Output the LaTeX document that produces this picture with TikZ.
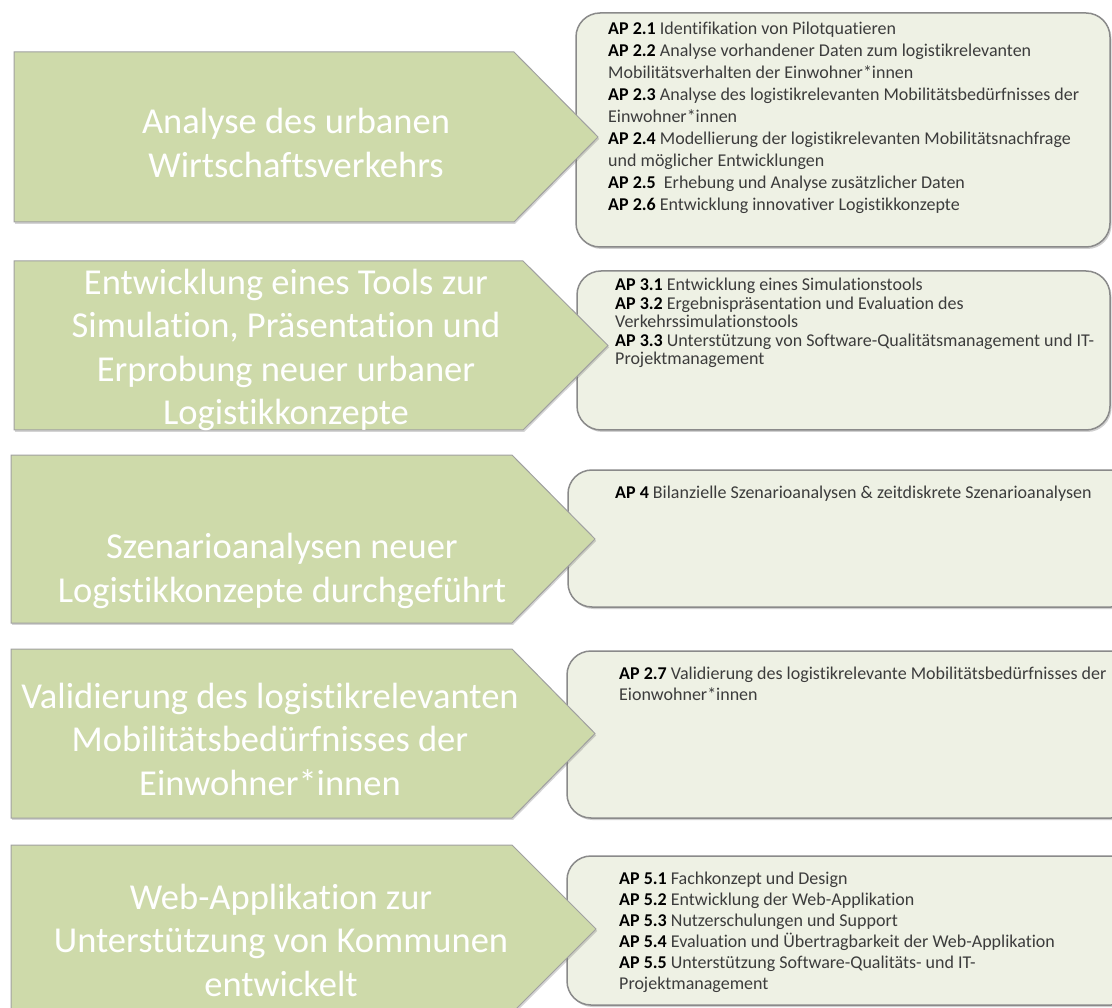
\documentclass[tikz,border=0pt]{standalone}
\usepackage{fontspec}
\setmainfont[Ligatures=NoCommon]{Carlito}
\usetikzlibrary{shadows}

\definecolor{arrowfill}{HTML}{CEDAAA}
\definecolor{arrowline}{HTML}{A0A0A0}
\definecolor{boxfill}{HTML}{EEF1E4}
\definecolor{boxline}{HTML}{8A8A8A}
\definecolor{boxtext}{HTML}{3C3C3C}

\tikzset{
  goalarrow/.style={fill=arrowfill, draw=arrowline, line width=1pt,
    drop shadow={shadow xshift=1.2pt, shadow yshift=-1.8pt, opacity=0.28, fill=black!60}},
  wpbox/.style={fill=boxfill, draw=boxline, line width=1.5pt, rounded corners=24pt,
    drop shadow={shadow xshift=1.5pt, shadow yshift=-2pt, opacity=0.3, fill=black!60}},
  goaltext/.style={text=white, align=center, inner sep=0pt,
    font=\fontsize{36.5}{43.5}\selectfont},
  wptext/.style={anchor=base west, inner sep=0pt, text=boxtext}
}

% work package list: first-line baseline at the node's base
\newcommand{\wplist}[2]{\parbox[t]{520pt}{\fontsize{18}{#1}\selectfont\raggedright #2}}
\newcommand{\ap}[1]{\textbf{\textcolor{black}{AP #1}}}

\begin{document}
\begin{tikzpicture}[x=1pt, y=-1pt]
  \useasboundingbox (0,0) rectangle (1112,1008);
  \fill[white] (0,0) rectangle (1112,1008);
  \clip (0,0) rectangle (1112,1008);

  % work package boxes (behind the arrow tips)
  \draw[wpbox] (576,13)  rectangle (1110,247);
  \draw[wpbox] (577,271) rectangle (1110,430);
  \draw[wpbox] (568,470) rectangle (1135,607);
  \draw[wpbox] (567,651) rectangle (1135,818);
  \draw[wpbox] (567,856) rectangle (1135,1005);

  % goal arrows
  \draw[goalarrow] (14,52)  -- (514,52)  -- (598,137)   -- (514,222)  -- (14,222)  -- cycle;
  \draw[goalarrow] (14,261) -- (523,261) -- (608,345.5) -- (523,430)  -- (14,430)  -- cycle;
  \draw[goalarrow] (11,455) -- (512,455) -- (595,539)   -- (512,623)  -- (11,623)  -- cycle;
  \draw[goalarrow] (11,649) -- (512,649) -- (595,733.5) -- (512,818)  -- (11,818)  -- cycle;
  \draw[goalarrow] (11,845) -- (512,845) -- (596,929)   -- (512,1013) -- (11,1013) -- cycle;

  % goal texts
  \node[goaltext] (g1) at (296,143) {Analyse des urbanen\\Wirtschaftsverkehrs};
  \node[goaltext] (g2) at (286,350) {Entwicklung eines Tools zur\\Simulation, Präsentation und\\Erprobung neuer urbaner\\Logistikkonzepte};
  \node[goaltext] (g3) at (282,571) {Szenarioanalysen neuer\\Logistikkonzepte durchgeführt};
  \node[goaltext] (g4) at (270,739) {Validierung des logistikrelevanten\\Mobilitätsbedürfnisses der\\Einwohner*innen};
  \node[goaltext] (g5) at (281,940) {Web-Applikation zur\\Unterstützung von Kommunen\\entwickelt};

  % work package texts
  \node[wptext] (w1) at (608,35) {\wplist{22}{%
    \ap{2.1} Identifikation von Pilotquatieren\\
    \ap{2.2} Analyse vorhandener Daten zum logistikrelevanten\\
    Mobilitätsverhalten der Einwohner*innen\\
    \ap{2.3} Analyse des logistikrelevanten Mobilitätsbedürfnisses der\\
    Einwohner*innen\\
    \ap{2.4} Modellierung der logistikrelevanten Mobilitätsnachfrage\\
    und möglicher Entwicklungen\\
    \ap{2.5}\ \ Erhebung und Analyse zusätzlicher Daten\\
    \ap{2.6} Entwicklung innovativer Logistikkonzepte}};
  \node[wptext] (w2) at (615,291) {\wplist{18.5}{%
    \ap{3.1} Entwicklung eines Simulationstools\\
    \ap{3.2} Ergebnispräsentation und Evaluation des\\
    Verkehrssimulationstools\\
    \ap{3.3} Unterstützung von Software-Qualitätsmanagement und IT-\\
    Projektmanagement}};
  \node[wptext] (w3) at (615,498) {\wplist{21}{%
    \ap{4} Bilanzielle Szenarioanalysen \& zeitdiskrete Szenarioanalysen}};
  \node[wptext] (w4) at (619,679) {\wplist{21}{%
    \ap{2.7} Validierung des logistikrelevante Mobilitätsbedürfnisses der\\
    Eionwohner*innen}};
  \node[wptext] (w5) at (619,884) {\wplist{21}{%
    \ap{5.1} Fachkonzept und Design\\
    \ap{5.2} Entwicklung der Web-Applikation\\
    \ap{5.3} Nutzerschulungen und Support\\
    \ap{5.4} Evaluation und Übertragbarkeit der Web-Applikation\\
    \ap{5.5} Unterstützung Software-Qualitäts- und IT-\\
    Projektmanagement}};
\end{tikzpicture}
\end{document}
